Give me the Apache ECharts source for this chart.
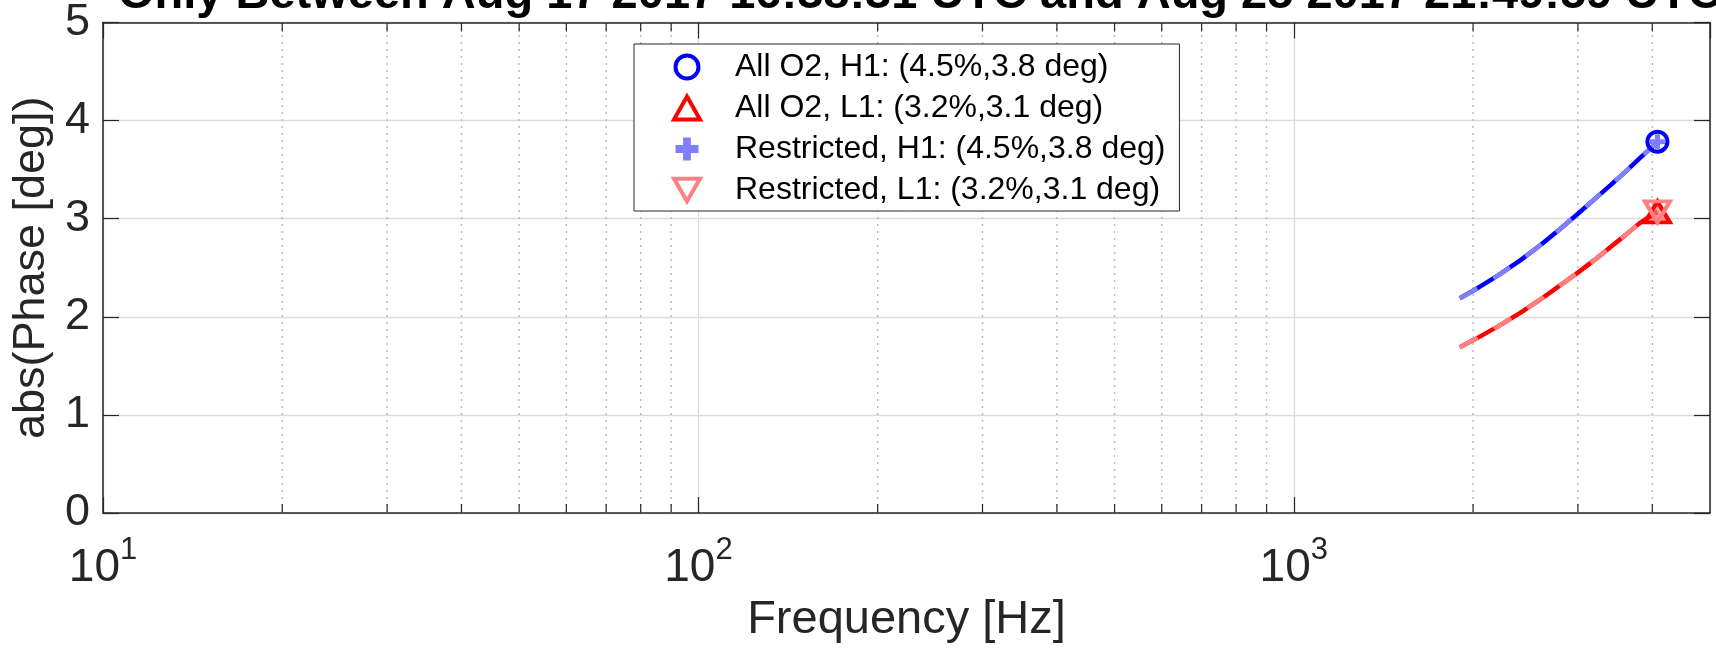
<!DOCTYPE html>
<html>
<head>
<meta charset="utf-8">
<script src="https://cdn.jsdelivr.net/npm/echarts@6/dist/echarts.min.js"></script>
<style>
html,body{margin:0;padding:0;background:#fff;}
#c{width:1716px;height:650px;}
</style>
</head>
<body>
<div id="c"></div>
<script>
// ---------- data ----------
const titleText = 'Only Between Aug 17 2017 16:38:31 UTC and Aug 25 2017 21:49:59 UTC';
const xAxisName = 'Frequency [Hz]';
const yAxisName = 'abs(Phase [deg])';
const freqHz       = [1900, 2000, 2200, 2400, 2600, 2800, 3000, 3200, 3400, 3600, 3800, 4000, 4080];
const allO2H1      = [2.19, 2.265, 2.42, 2.575, 2.735, 2.895, 3.05, 3.20, 3.34, 3.475, 3.61, 3.735, 3.785];
const allO2L1      = [1.69, 1.76, 1.90, 2.04, 2.18, 2.32, 2.45, 2.58, 2.71, 2.83, 2.95, 3.04, 3.07];
const restrictedH1 = [2.19, 2.265, 2.42, 2.575, 2.735, 2.895, 3.05, 3.20, 3.34, 3.475, 3.61, 3.735, 3.785];
const restrictedL1 = [1.69, 1.76, 1.90, 2.04, 2.18, 2.32, 2.45, 2.58, 2.71, 2.83, 2.95, 3.04, 3.07];
const legendNames = [
  'All O2, H1: (4.5%,3.8 deg)',
  'All O2, L1: (3.2%,3.1 deg)',
  'Restricted, H1: (4.5%,3.8 deg)',
  'Restricted, L1: (3.2%,3.1 deg)'
];
const xRange = [10, 5000];
const yRange = [0, 5];
const yInterval = 1;
const xMajorTicks = [10, 100, 1000];
const xMajorExp = ['1', '2', '3'];
const xMinorTicks = [20, 30, 40, 50, 60, 70, 80, 90,
                     200, 300, 400, 500, 600, 700, 800, 900,
                     2000, 3000, 4000];

// ---------- styling ----------
const FONT = "'Liberation Sans', Arial, Helvetica, sans-serif";
const AX = '#262626';
const C_H1 = '#0000ff', C_H1R = '#8080ff', C_L1 = '#ff0000', C_L1R = '#ff8080';
const PLUS = 'path://M3.3,0H6.7V3.3H10V6.7H6.7V10H3.3V6.7H0V3.3H3.3Z';
const DOWN_TRI = 'path://M0,0L10,0L5,8.66Z';

const pairs = (xs, ys) => xs.map((x, i) => [x, ys[i]]);
const last = (xs, ys) => [[xs[xs.length - 1], ys[ys.length - 1]]];

const chart = echarts.init(document.getElementById('c'), null, {renderer: 'canvas'});

const lineSeries = (name, ys, color, dashed, z) => ({
  name, type: 'line', data: pairs(freqHz, ys), showSymbol: false, symbol: 'none',
  lineStyle: {color, width: 4.5, type: dashed ? [20, 19] : 'solid', cap: 'butt'},
  itemStyle: {color}, z, silent: true, animation: false
});

const option = {
  animation: false,
  backgroundColor: '#fff',
  textStyle: {fontFamily: FONT},
  title: {
    text: titleText, left: 113, top: -33,
    textStyle: {fontFamily: FONT, fontSize: 47, fontWeight: 'bold', color: '#000', lineHeight: 47}
  },
  grid: {left: 103, right: 6, top: 22, bottom: 137, containLabel: false},
  legend: {
    orient: 'vertical', left: 634, top: 44,
    padding: [7, 14, 5, 38], itemGap: 9, itemWidth: 26, itemHeight: 23,
    backgroundColor: '#fff', borderColor: AX, borderWidth: 1, borderRadius: 0,
    selectedMode: false, z: 10,
    textStyle: {fontFamily: FONT, fontSize: 32, color: '#000', lineHeight: 32, padding: [0, 0, 0, 30]},
    data: [
      {name: legendNames[0], itemStyle: {color: 'rgba(255,255,255,0)', borderColor: C_H1, borderWidth: 4}},
      {name: legendNames[1], itemStyle: {color: 'rgba(255,255,255,0)', borderColor: C_L1, borderWidth: 4}},
      {name: legendNames[2], itemStyle: {color: C_H1R, borderWidth: 0}},
      {name: legendNames[3], itemStyle: {color: 'rgba(255,255,255,0)', borderColor: C_L1R, borderWidth: 4}}
    ]
  },
  xAxis: [{
    type: 'log', logBase: 10, min: xRange[0], max: xRange[1], position: 'bottom',
    name: xAxisName, nameLocation: 'middle', nameGap: 84,
    nameTextStyle: {fontFamily: FONT, fontSize: 47, color: '#262626'},
    axisLine: {show: true, onZero: false, lineStyle: {color: AX, width: 1.5}},
    axisTick: {show: true, inside: true, length: 16, lineStyle: {color: AX, width: 1.2}},
    splitLine: {show: true, lineStyle: {color: '#dcdcdc', width: 1.3}},
    minorTick: {show: false}, minorSplitLine: {show: false},
    axisLabel: {
      show: true, margin: 22, showMaxLabel: false, showMinLabel: true,
      formatter: v => {
        const i = xMajorTicks.findIndex(t => Math.abs(Math.log10(t) - Math.log10(v)) < 1e-6);
        return i < 0 ? '' : '{b|10}{s|' + xMajorExp[i] + '}';
      },
      rich: {
        b: {fontFamily: FONT, fontSize: 46, color: '#262626', lineHeight: 56, verticalAlign: 'bottom'},
        s: {fontFamily: FONT, fontSize: 31, color: '#262626', lineHeight: 56, verticalAlign: 'top'}
      }
    }
  }, {
    type: 'log', logBase: 10, min: xRange[0], max: xRange[1], position: 'top',
    axisLine: {show: true, onZero: false, lineStyle: {color: AX, width: 1.5}},
    axisTick: {show: true, inside: true, length: 16, lineStyle: {color: AX, width: 1.2}},
    axisLabel: {show: false}, splitLine: {show: false}
  }],
  yAxis: [{
    type: 'value', min: yRange[0], max: yRange[1], interval: yInterval, position: 'left',
    name: yAxisName, nameLocation: 'middle', nameGap: 48, nameRotate: 90,
    nameTextStyle: {fontFamily: FONT, fontSize: 45, color: '#262626'},
    axisLine: {show: true, onZero: false, lineStyle: {color: AX, width: 1.5}},
    axisTick: {show: true, inside: true, length: 16, lineStyle: {color: AX, width: 1.2}},
    splitLine: {show: true, lineStyle: {color: '#dcdcdc', width: 1.3}},
    axisLabel: {show: true, margin: 13, fontFamily: FONT, fontSize: 45, color: '#262626'}
  }, {
    type: 'value', min: yRange[0], max: yRange[1], interval: yInterval, position: 'right',
    axisLine: {show: true, onZero: false, lineStyle: {color: AX, width: 1.5}},
    axisTick: {show: true, inside: true, length: 16, lineStyle: {color: AX, width: 1.2}},
    axisLabel: {show: false}, splitLine: {show: false}
  }],
  series: [
    {
      name: 'minor grid', type: 'custom', xAxisIndex: 0, yAxisIndex: 0,
      data: xMinorTicks.map(v => [v, yRange[0]]), encode: {x: 0, y: 1},
      clip: false, silent: true, z: 1,
      renderItem: (params, api) => {
        const v = api.value(0);
        const pB = api.coord([v, yRange[0]]);
        const pT = api.coord([v, yRange[1]]);
        return {type: 'group', children: [
          {type: 'line', shape: {x1: pB[0], y1: pB[1], x2: pT[0], y2: pT[1]},
           style: {stroke: '#b8b8b8', lineWidth: 1.4, lineDash: [2, 5]}},
          {type: 'line', shape: {x1: pB[0], y1: pB[1], x2: pB[0], y2: pB[1] - 9},
           style: {stroke: AX, lineWidth: 1.2}},
          {type: 'line', shape: {x1: pT[0], y1: pT[1], x2: pT[0], y2: pT[1] + 9},
           style: {stroke: AX, lineWidth: 1.2}}
        ]};
      }
    },
    lineSeries('H1 all line', allO2H1, C_H1, false, 3),
    lineSeries('L1 all line', allO2L1, C_L1, false, 3),
    lineSeries('H1 restricted line', restrictedH1, C_H1R, true, 4),
    lineSeries('L1 restricted line', restrictedL1, C_L1R, true, 4),
    {
      name: legendNames[0], type: 'scatter', data: last(freqHz, allO2H1),
      symbol: 'circle', symbolSize: 20, z: 5, silent: true,
      itemStyle: {color: 'rgba(255,255,255,0)', borderColor: C_H1, borderWidth: 4, opacity: 1}
    },
    {
      name: legendNames[1], type: 'scatter', data: last(freqHz, allO2L1),
      symbol: 'triangle', symbolSize: [25, 21], z: 5, silent: true,
      itemStyle: {color: 'rgba(255,0,0,0.35)', borderColor: C_L1, borderWidth: 4, opacity: 1}
    },
    {
      name: legendNames[2], type: 'scatter', data: last(freqHz, restrictedH1),
      symbol: PLUS, symbolSize: 15, z: 6, silent: true,
      itemStyle: {color: C_H1R, opacity: 1}
    },
    {
      name: legendNames[3], type: 'scatter', data: last(freqHz, restrictedL1),
      symbol: DOWN_TRI, symbolSize: [25, 21], z: 6, silent: true,
      itemStyle: {color: 'rgba(255,255,255,0)', borderColor: C_L1R, borderWidth: 4, opacity: 1}
    }
  ]
};
chart.setOption(option);
</script>
</body>
</html>
